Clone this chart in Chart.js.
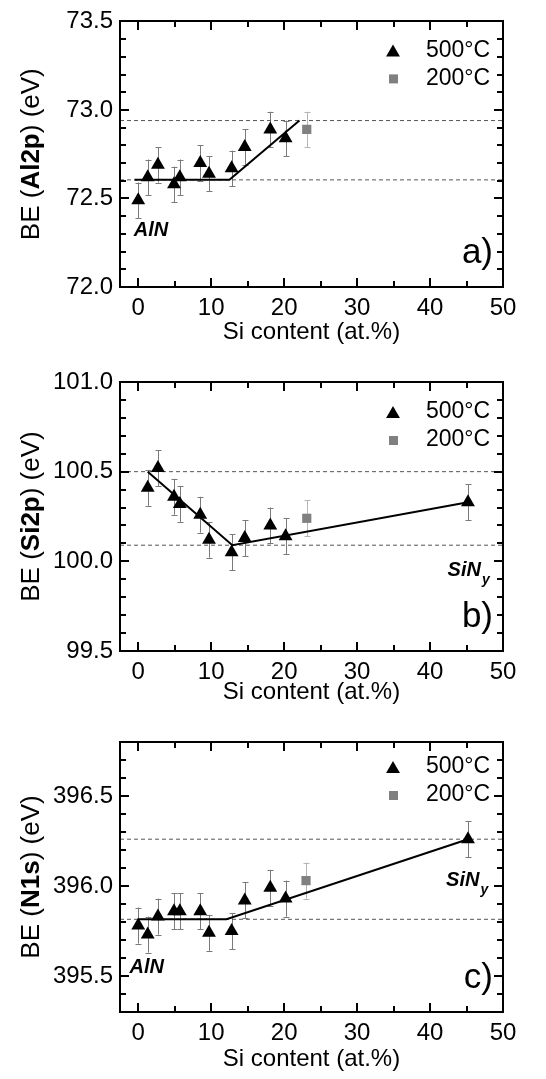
<!DOCTYPE html>
<html lang="en">
<head>
<meta charset="UTF-8">
<title>BE vs Si content</title>
<script src="https://cdn.jsdelivr.net/npm/chart.js"></script>
<style>
  html, body { margin: 0; padding: 0; background: #fff; }
  body { width: 546px; height: 1079px; position: relative; overflow: hidden; }
  .panel { position: absolute; left: 0; width: 546px; }
</style>
</head>
<body>
<div class="panel" style="top:0;height:347px"><canvas id="chartA"></canvas></div>
<div class="panel" style="top:355px;height:352px"><canvas id="chartB"></canvas></div>
<div class="panel" style="top:715px;height:359px"><canvas id="chartC"></canvas></div>
<script>
const FONT = "'Liberation Sans', Arial, Helvetica, sans-serif";

// x axis ticks (Si content, at.%)
const siTicks = [0, 5, 10, 15, 20, 25, 30, 35, 40, 45, 50];

// a) Al2p
const siAl = [0, 1.3, 2.7, 4.9, 5.7, 8.5, 9.7, 12.8, 14.6, 18.1, 20.2];
const beAl = [72.49, 72.62, 72.69, 72.58, 72.62, 72.70, 72.64, 72.67, 72.79, 72.89, 72.84];
const errAl = [0.1, 0.1, 0.1, 0.1, 0.1, 0.1, 0.1, 0.1, 0.1, 0.1, 0.1];
const siAl200 = [23.1];
const beAl200 = [72.89];
const errAl200 = [0.1];
const fitAlX = [-0.5, 12.5, 22.1];
const fitAlY = [72.605, 72.605, 72.94];
const refAl = [72.605, 72.94];

// b) Si2p
const siSi = [1.3, 2.7, 4.9, 5.7, 8.5, 9.7, 12.8, 14.6, 18.1, 20.2, 45.2];
const beSi = [100.41, 100.52, 100.36, 100.32, 100.26, 100.12, 100.05, 100.13, 100.20, 100.14, 100.33];
const errSi = [0.1, 0.1, 0.1, 0.1, 0.1, 0.1, 0.1, 0.1, 0.1, 0.1, 0.1];
const siSi200 = [23.1];
const beSi200 = [100.24];
const errSi200 = [0.1];
const fitSiX = [1.3, 12.9, 45.2];
const fitSiY = [100.50, 100.09, 100.33];
const refSi = [100.50, 100.09];

// c) N1s
const siN = [0, 1.3, 2.7, 4.9, 5.7, 8.5, 9.7, 12.8, 14.6, 18.1, 20.2, 45.2];
const beN = [395.78, 395.73, 395.83, 395.86, 395.86, 395.86, 395.74, 395.75, 395.92, 395.99, 395.93, 396.26];
const errN = [0.1, 0.1, 0.1, 0.1, 0.1, 0.1, 0.1, 0.1, 0.1, 0.1, 0.1, 0.1];
const siN200 = [23.0];
const beN200 = [396.03];
const errN200 = [0.1];
const fitNX = [0, 12.1, 45.2];
const fitNY = [395.815, 395.815, 396.26];
const refN = [395.815, 396.26];

const legendLabels = ['500°C', '200°C'];

function pts(xs, ys) {
  return xs.map((x, i) => ({ x: x, y: ys[i] }));
}

function triangle(ctx, x, y, r) {
  ctx.beginPath();
  ctx.moveTo(x, y - r);
  ctx.lineTo(x + r * Math.sin(2 * Math.PI / 3), y - r * Math.cos(2 * Math.PI / 3));
  ctx.lineTo(x + r * Math.sin(4 * Math.PI / 3), y - r * Math.cos(4 * Math.PI / 3));
  ctx.closePath();
  ctx.fill();
}

// error bars, frame with inward ticks, axis title, legend and notes
const decor = {
  id: 'decor',
  beforeDatasetsDraw(chart) {
    const ctx = chart.ctx;
    const ys = chart.scales.y;
    chart.data.datasets.forEach((ds, di) => {
      if (!ds.errors) return;
      const meta = chart.getDatasetMeta(di);
      ctx.save();
      ctx.setLineDash([]);
      ctx.strokeStyle = ds.errorColor;
      ctx.lineWidth = 1;
      meta.data.forEach((p, i) => {
        const v = ds.data[i].y, e = ds.errors[i];
        const t = ys.getPixelForValue(v + e), b = ys.getPixelForValue(v - e);
        const x = Math.round(p.x) + 0.5;
        ctx.beginPath();
        ctx.moveTo(x, t); ctx.lineTo(x, b);
        ctx.moveTo(x - 3, Math.round(t) + 0.5); ctx.lineTo(x + 3, Math.round(t) + 0.5);
        ctx.moveTo(x - 3, Math.round(b) + 0.5); ctx.lineTo(x + 3, Math.round(b) + 0.5);
        ctx.stroke();
      });
      ctx.restore();
    });
  },
  afterDraw(chart, args, o) {
    const ctx = chart.ctx;
    const ca = chart.chartArea;
    const xs = chart.scales.x, ys = chart.scales.y;
    const L = Math.round(ca.left), R = Math.round(ca.right);
    const T = Math.round(ca.top), B = Math.round(ca.bottom);
    ctx.save();
    ctx.fillStyle = '#000';
    // ticks on all four sides, pointing inward
    siTicks.forEach(v => {
      const px = Math.round(xs.getPixelForValue(v));
      const len = (v % 10 === 0) ? 9 : 6;
      ctx.fillRect(px - 1, B - len, 2, len);
      ctx.fillRect(px - 1, T, 2, len);
    });
    ys.ticks.forEach(t => {
      const py = Math.round(ys.getPixelForValue(t.value));
      const major = Math.abs(t.value * 2 - Math.round(t.value * 2)) < 1e-6;
      const len = major ? 9 : 6;
      ctx.fillRect(L, py - 1, len, 2);
      ctx.fillRect(R - len, py - 1, len, 2);
    });
    // frame
    ctx.fillRect(L - 1, T - 1, R - L + 2, 2);
    ctx.fillRect(L - 1, B - 1, R - L + 2, 2);
    ctx.fillRect(L - 1, T - 1, 2, B - T + 2);
    ctx.fillRect(R - 1, T - 1, 2, B - T + 2);

    // y axis title with bold core level
    ctx.textBaseline = 'middle';
    ctx.textAlign = 'left';
    ctx.translate(32, (ca.top + ca.bottom) / 2);
    ctx.rotate(-Math.PI / 2);
    const parts = [['BE (', false], [o.level, true], [') (eV)', false]];
    let total = 0;
    parts.forEach(p => { ctx.font = (p[1] ? 'bold ' : '') + '26px ' + FONT; total += ctx.measureText(p[0]).width; });
    let cx = -total / 2;
    parts.forEach(p => {
      ctx.font = (p[1] ? 'bold ' : '') + '26px ' + FONT;
      ctx.fillText(p[0], cx, 0);
      cx += ctx.measureText(p[0]).width;
    });
    ctx.restore();

    ctx.save();
    // legend
    const lx = ca.right - 110;
    const rows = [ca.top + o.legendTop, ca.top + o.legendTop + 28];
    ctx.fillStyle = '#000';
    triangle(ctx, lx, rows[0] + 2, 8);
    ctx.fillStyle = '#808080';
    ctx.fillRect(lx - 4, rows[1] - 4, 9, 9);
    ctx.fillStyle = '#000';
    ctx.font = '23px ' + FONT;
    ctx.textBaseline = 'middle';
    ctx.textAlign = 'left';
    ctx.fillText(legendLabels[0], lx + 33, rows[0]);
    ctx.fillText(legendLabels[1], lx + 33, rows[1]);

    // panel label
    ctx.font = '35px ' + FONT;
    ctx.textAlign = 'right';
    ctx.textBaseline = 'alphabetic';
    ctx.fillText(o.panel, ca.right - 10, ca.bottom - 24);

    // material notes
    ctx.textAlign = 'left';
    ctx.textBaseline = 'middle';
    o.notes.forEach(n => {
      const px = xs.getPixelForValue(n.x), py = ys.getPixelForValue(n.y);
      ctx.font = 'italic bold 20px ' + FONT;
      ctx.fillText(n.text, px, py);
      if (n.sub) {
        const w = ctx.measureText(n.text).width;
        ctx.font = 'italic bold 14px ' + FONT;
        ctx.fillText(n.sub, px + w + 1, py + 10);
      }
    });
    ctx.restore();
  }
};

function makeChart(id, c) {
  const datasets = [
    { label: legendLabels[0], data: pts(c.x, c.y), errors: c.err, errorColor: '#7a7a7a',
      pointStyle: 'triangle', pointRadius: 8, backgroundColor: '#000', borderColor: '#000', borderWidth: 0 },
    { label: legendLabels[1], data: pts(c.x2, c.y2), errors: c.err2, errorColor: '#b5b5b5',
      pointStyle: 'rect', pointRadius: 6.5, backgroundColor: '#808080', borderColor: '#808080', borderWidth: 0 },
    { label: 'fit', data: pts(c.fitX, c.fitY), showLine: true, pointRadius: 0,
      borderColor: '#000', borderWidth: 2 }
  ];
  c.refs.forEach(r => {
    datasets.push({ label: 'ref', data: pts([-2.5, 50], [r, r]), showLine: true, pointRadius: 0,
      borderColor: '#555', borderWidth: 1, borderDash: [4, 3] });
  });
  return new Chart(document.getElementById(id), {
    type: 'scatter',
    data: { datasets: datasets },
    options: {
      responsive: true,
      maintainAspectRatio: false,
      animation: false,
      events: [],
      layout: { padding: { top: c.padTop, right: 43, bottom: 0, left: 0 } },
      plugins: { legend: { display: false }, tooltip: { enabled: false }, decor: c.decor },
      scales: {
        x: {
          type: 'linear', min: -2.5, max: 50,
          afterBuildTicks: s => { s.ticks = siTicks.map(v => ({ value: v })); },
          afterFit: s => { s.height = c.xHeight; },
          grid: { display: false, drawTicks: false },
          border: { display: false },
          ticks: {
            autoSkip: false, maxRotation: 0, padding: 7, color: '#000',
            font: { family: FONT, size: 24 },
            callback: v => (v % 10 === 0 ? String(v) : '')
          },
          title: { display: true, text: 'Si content (at.%)', color: '#000',
            font: { family: FONT, size: 24 }, padding: { top: 0, bottom: 0 } }
        },
        y: {
          type: 'linear', min: c.yMin, max: c.yMax,
          afterFit: s => { s.width = 120; },
          grid: { display: false, drawTicks: false },
          border: { display: false },
          ticks: {
            stepSize: 0.1, autoSkip: false, padding: 7, color: '#000',
            font: { family: FONT, size: 24 },
            callback: v => (Math.abs(v * 2 - Math.round(v * 2)) < 1e-6 ? v.toFixed(1) : '')
          }
        }
      }
    },
    plugins: [decor]
  });
}

makeChart('chartA', {
  x: siAl, y: beAl, err: errAl, x2: siAl200, y2: beAl200, err2: errAl200,
  fitX: fitAlX, fitY: fitAlY, refs: refAl, yMin: 72.0, yMax: 73.5,
  padTop: 17, xHeight: 60,
  decor: { level: 'Al2p', panel: 'a)', legendTop: 29,
    notes: [{ x: -0.6, y: 72.32, text: 'AlN' }] }
});

makeChart('chartB', {
  x: siSi, y: beSi, err: errSi, x2: siSi200, y2: beSi200, err2: errSi200,
  fitX: fitSiX, fitY: fitSiY, refs: refSi, yMin: 99.5, yMax: 101.0,
  padTop: 27, xHeight: 56,
  decor: { level: 'Si2p', panel: 'b)', legendTop: 30,
    notes: [{ x: 42.4, y: 99.95, text: 'SiN', sub: 'y' }] }
});

makeChart('chartC', {
  x: siN, y: beN, err: errN, x2: siN200, y2: beN200, err2: errN200,
  fitX: fitNX, fitY: fitNY, refs: refN, yMin: 395.3, yMax: 396.8,
  padTop: 27, xHeight: 62,
  decor: { level: 'N1s', panel: 'c)', legendTop: 25,
    notes: [{ x: -1.2, y: 395.55, text: 'AlN' }, { x: 42.2, y: 396.03, text: 'SiN', sub: 'y' }] }
});
</script>
</body>
</html>
